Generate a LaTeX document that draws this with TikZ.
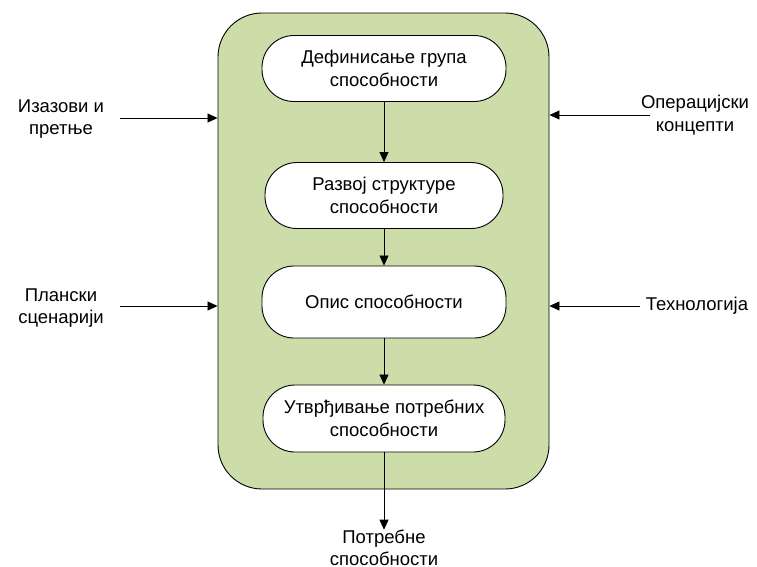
\documentclass[tikz,border=0pt]{standalone}
\usepackage{fontspec}
\setmainfont{Liberation Sans}
\usetikzlibrary{arrows.meta}
\definecolor{panel}{RGB}{204,221,170}
\begin{document}
\begin{tikzpicture}[x=1pt,y=-1pt,
  lbl/.style={font=\fontsize{18.5}{22.5}\selectfont, align=center, inner sep=0pt},
  stage/.style={draw=black, line width=0.9pt, fill=white, rounded corners=32pt,
    minimum width=244pt, minimum height=66pt, align=center, inner sep=0pt,
    font=\fontsize{18.5}{22.5}\selectfont},
  flow/.style={draw=black, line width=0.8pt, -{Triangle[length=10pt,width=9pt]}}]
\useasboundingbox (0,0) rectangle (757,566);
% background panel
\node[draw=black, line width=0.9pt, fill=panel, rounded corners=44pt,
  minimum width=331pt, minimum height=476pt, inner sep=0pt] (panel) at (383.5,251) {};
% process stages
\node[stage] (s1) at (384,68.5) {Дефинисање група\\способности};
\node[stage, minimum width=238pt] (s2) at (384,195.5) {Развој структуре\\способности};
\node[stage, minimum height=72pt] (s3) at (384,302) {Опис способности};
\node[stage, minimum width=242pt, minimum height=67pt] (s4) at (384,418.5) {Утврђивање потребних\\способности};
\draw[flow] (s1) -- (s2);
\draw[flow] (s2) -- (s3);
\draw[flow] (s3) -- (s4);
% output
\node[lbl] (out) at (384,548) {Потребне\\способности};
\draw[flow] (s4.south) -- (out.north);
% inputs
\node[lbl] (in1) at (61,119) {Изазови и\\претње};
\node[lbl] (in2) at (61,308) {Плански\\сценарији};
\node[lbl] (in3) at (695,115) {Операцијски\\концепти};
\node[lbl] (in4) at (697,306) {Технологија};
\coordinate (a1) at (120,118);
\coordinate (a2) at (120,306);
\coordinate (a3) at (650,115);
\coordinate (a4) at (640,306);
\draw[flow] (a1) -- (a1 -| panel.west);
\draw[flow] (a2) -- (a2 -| panel.west);
\draw[flow] (a3) -- (a3 -| panel.east);
\draw[flow] (a4) -- (a4 -| panel.east);
\end{tikzpicture}
\end{document}
